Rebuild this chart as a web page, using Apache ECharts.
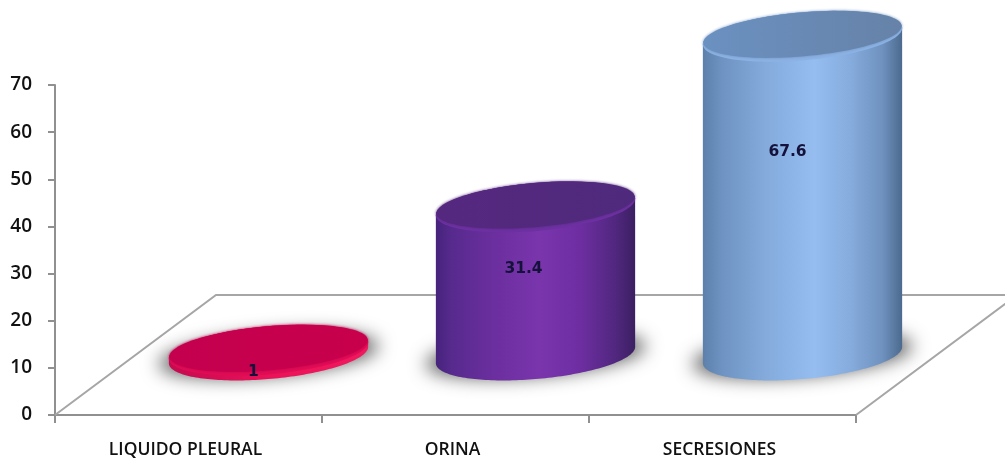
<!DOCTYPE html>
<html>
<head>
<meta charset="utf-8">
<style>html,body{margin:0;padding:0;background:#fff}#chart{width:1005px;height:459px}</style>
<script src="https://cdn.jsdelivr.net/npm/echarts@6/dist/echarts.min.js"></script>
</head>
<body>
<div id="chart"></div>
<script>
// Specimen categories and their percentages
const categories = ['LIQUIDO PLEURAL', 'ORINA', 'SECRESIONES'];
const values = [1, 31.4, 67.6];
const yTicks = [0, 10, 20, 30, 40, 50, 60, 70];

// Cylinder shading, one palette per category
const palettes = [
  {
    side: [[0, '#c40a50'], [0.5, '#ea1259'], [1, '#f0195f']],
    rim: '#e00c54', topA: '#c4004e', topB: '#c8004c'
  },
  {
    side: [[0, '#46237c'], [0.08, '#572a8e'], [0.3, '#6c2f9f'], [0.52, '#7a35ad'], [0.72, '#6e2ea2'], [0.9, '#51277f'], [1, '#3c1f62']],
    rim: '#6d30a2', topA: '#55287f', topB: '#4f2a7c'
  },
  {
    side: [[0, '#5d80ab'], [0.1, '#6f94c3'], [0.32, '#84abdc'], [0.56, '#95bdf0'], [0.74, '#86acdd'], [0.9, '#6f92bf'], [1, '#4c6a8e']],
    rim: '#8cb2e4', topA: '#6b91c1', topB: '#6682a8'
  }
];

// Floor depth and cylinder footprint, in pixels
const FLOOR_DX = 161, FLOOR_DY = -120;
const BASE_DX = 80, BASE_DY = -60;
const RX = 100, RY = 24, TILT = -5 * Math.PI / 180;
// Data label offsets from the base centre
const LABEL_OFFSET = [[-15, 17], [-12, -86], [-15, -203]];
// Drawn off-canvas so that only the blurred floor shadow lands in view
const SHADOW_SHIFT = 3000;

function ellipseAt(cx, cy, rx, ry, from, to) {
  const pts = [];
  const n = 96;
  for (let i = 0; i <= n; i++) {
    const t = from + (to - from) * i / n;
    const ex = rx * Math.cos(t), ey = ry * Math.sin(t);
    pts.push([
      cx + ex * Math.cos(TILT) - ey * Math.sin(TILT),
      cy + ex * Math.sin(TILT) + ey * Math.cos(TILT)
    ]);
  }
  return pts;
}

function hGradient(stops) {
  return {
    type: 'linear', x: 0, y: 0, x2: 1, y2: 0,
    colorStops: stops.map(function (s) { return { offset: s[0], color: s[1] }; })
  };
}

function renderFloor(params, api) {
  const band = api.size([1, 0])[0];
  const a = api.coord([0, 0]);
  const left = a[0] - band / 2, y0 = a[1];
  const right = left + band * categories.length;
  return {
    type: 'polyline',
    shape: {
      points: [
        [left, y0],
        [left + FLOOR_DX, y0 + FLOOR_DY],
        [right + FLOOR_DX, y0 + FLOOR_DY],
        [right, y0]
      ]
    },
    style: { stroke: '#a6a6a6', lineWidth: 2, fill: null }
  };
}

function renderCylinder(params, api) {
  const i = api.value(0), v = api.value(1);
  const p = palettes[i];
  const bottom = api.coord([i, 0]);
  const top = api.coord([i, v]);
  const cx = bottom[0] + BASE_DX;
  const cy = bottom[1] + BASE_DY;
  const ty = top[1] + BASE_DY;
  const t0 = Math.atan(-(RY / RX) * Math.tan(TILT));

  const lowerArc = ellipseAt(cx, cy, RX, RY, t0, t0 + Math.PI);
  const upperArc = ellipseAt(cx, ty, RX, RY, t0 + Math.PI, t0 + 2 * Math.PI);

  return {
    type: 'group',
    children: [
      {
        type: 'polygon',
        shape: { points: ellipseAt(cx - SHADOW_SHIFT, cy, RX + 10, RY - 3, 0, 2 * Math.PI) },
        style: {
          fill: '#666',
          shadowBlur: 18,
          shadowColor: '#5f5f5f',
          shadowOffsetX: SHADOW_SHIFT
        }
      },
      {
        type: 'polygon',
        shape: { points: lowerArc.concat(upperArc) },
        style: { fill: hGradient(p.side) }
      },
      {
        type: 'polygon',
        shape: { points: ellipseAt(cx, ty, RX, RY, 0, 2 * Math.PI) },
        style: { fill: p.rim }
      },
      {
        type: 'polygon',
        shape: { points: ellipseAt(cx, ty - 2, RX - 0.5, RY - 2, 0, 2 * Math.PI) },
        style: {
          fill: hGradient([[0, p.topA], [1, p.topB]]),
          shadowBlur: 3,
          shadowColor: p.topA
        }
      },
      {
        type: 'text',
        style: {
          x: cx + LABEL_OFFSET[i][0],
          y: cy + LABEL_OFFSET[i][1],
          text: String(v),
          font: '600 15.5px "DejaVu Sans"',
          fill: '#14123a',
          align: 'center',
          verticalAlign: 'middle'
        }
      }
    ]
  };
}

const chart = echarts.init(document.getElementById('chart'), null, { renderer: 'canvas' });
chart.setOption({
  animation: false,
  backgroundColor: '#ffffff',
  grid: { left: 55, right: 149, top: 85, bottom: 44 },
  xAxis: {
    type: 'category',
    data: categories,
    axisLine: { lineStyle: { color: '#909090', width: 2 } },
    axisTick: { show: true, alignWithLabel: false, length: 8, lineStyle: { color: '#909090', width: 2 } },
    axisLabel: {
      color: '#111', fontFamily: 'Open Sans', fontSize: 17.5, fontWeight: 600,
      margin: 26, padding: [0, 6, 0, 0]
    },
    splitLine: { show: false }
  },
  yAxis: {
    type: 'value',
    min: yTicks[0],
    max: yTicks[yTicks.length - 1],
    interval: yTicks[1] - yTicks[0],
    axisLine: { show: true, lineStyle: { color: '#909090', width: 2 } },
    axisTick: { show: true, length: 7, lineStyle: { color: '#909090', width: 2 } },
    axisLabel: { color: '#111', fontFamily: 'Open Sans', fontWeight: 600, fontSize: 19, margin: 23 },
    splitLine: { show: false }
  },
  series: [
    {
      type: 'custom',
      z: 1,
      silent: true,
      renderItem: renderFloor,
      data: [[0, 0]],
      clip: false
    },
    {
      type: 'custom',
      z: 3,
      renderItem: renderCylinder,
      data: categories.map(function (c, i) { return [i, values[i]]; }),
      encode: { x: 0, y: 1 },
      clip: false
    }
  ]
});
</script>
</body>
</html>
